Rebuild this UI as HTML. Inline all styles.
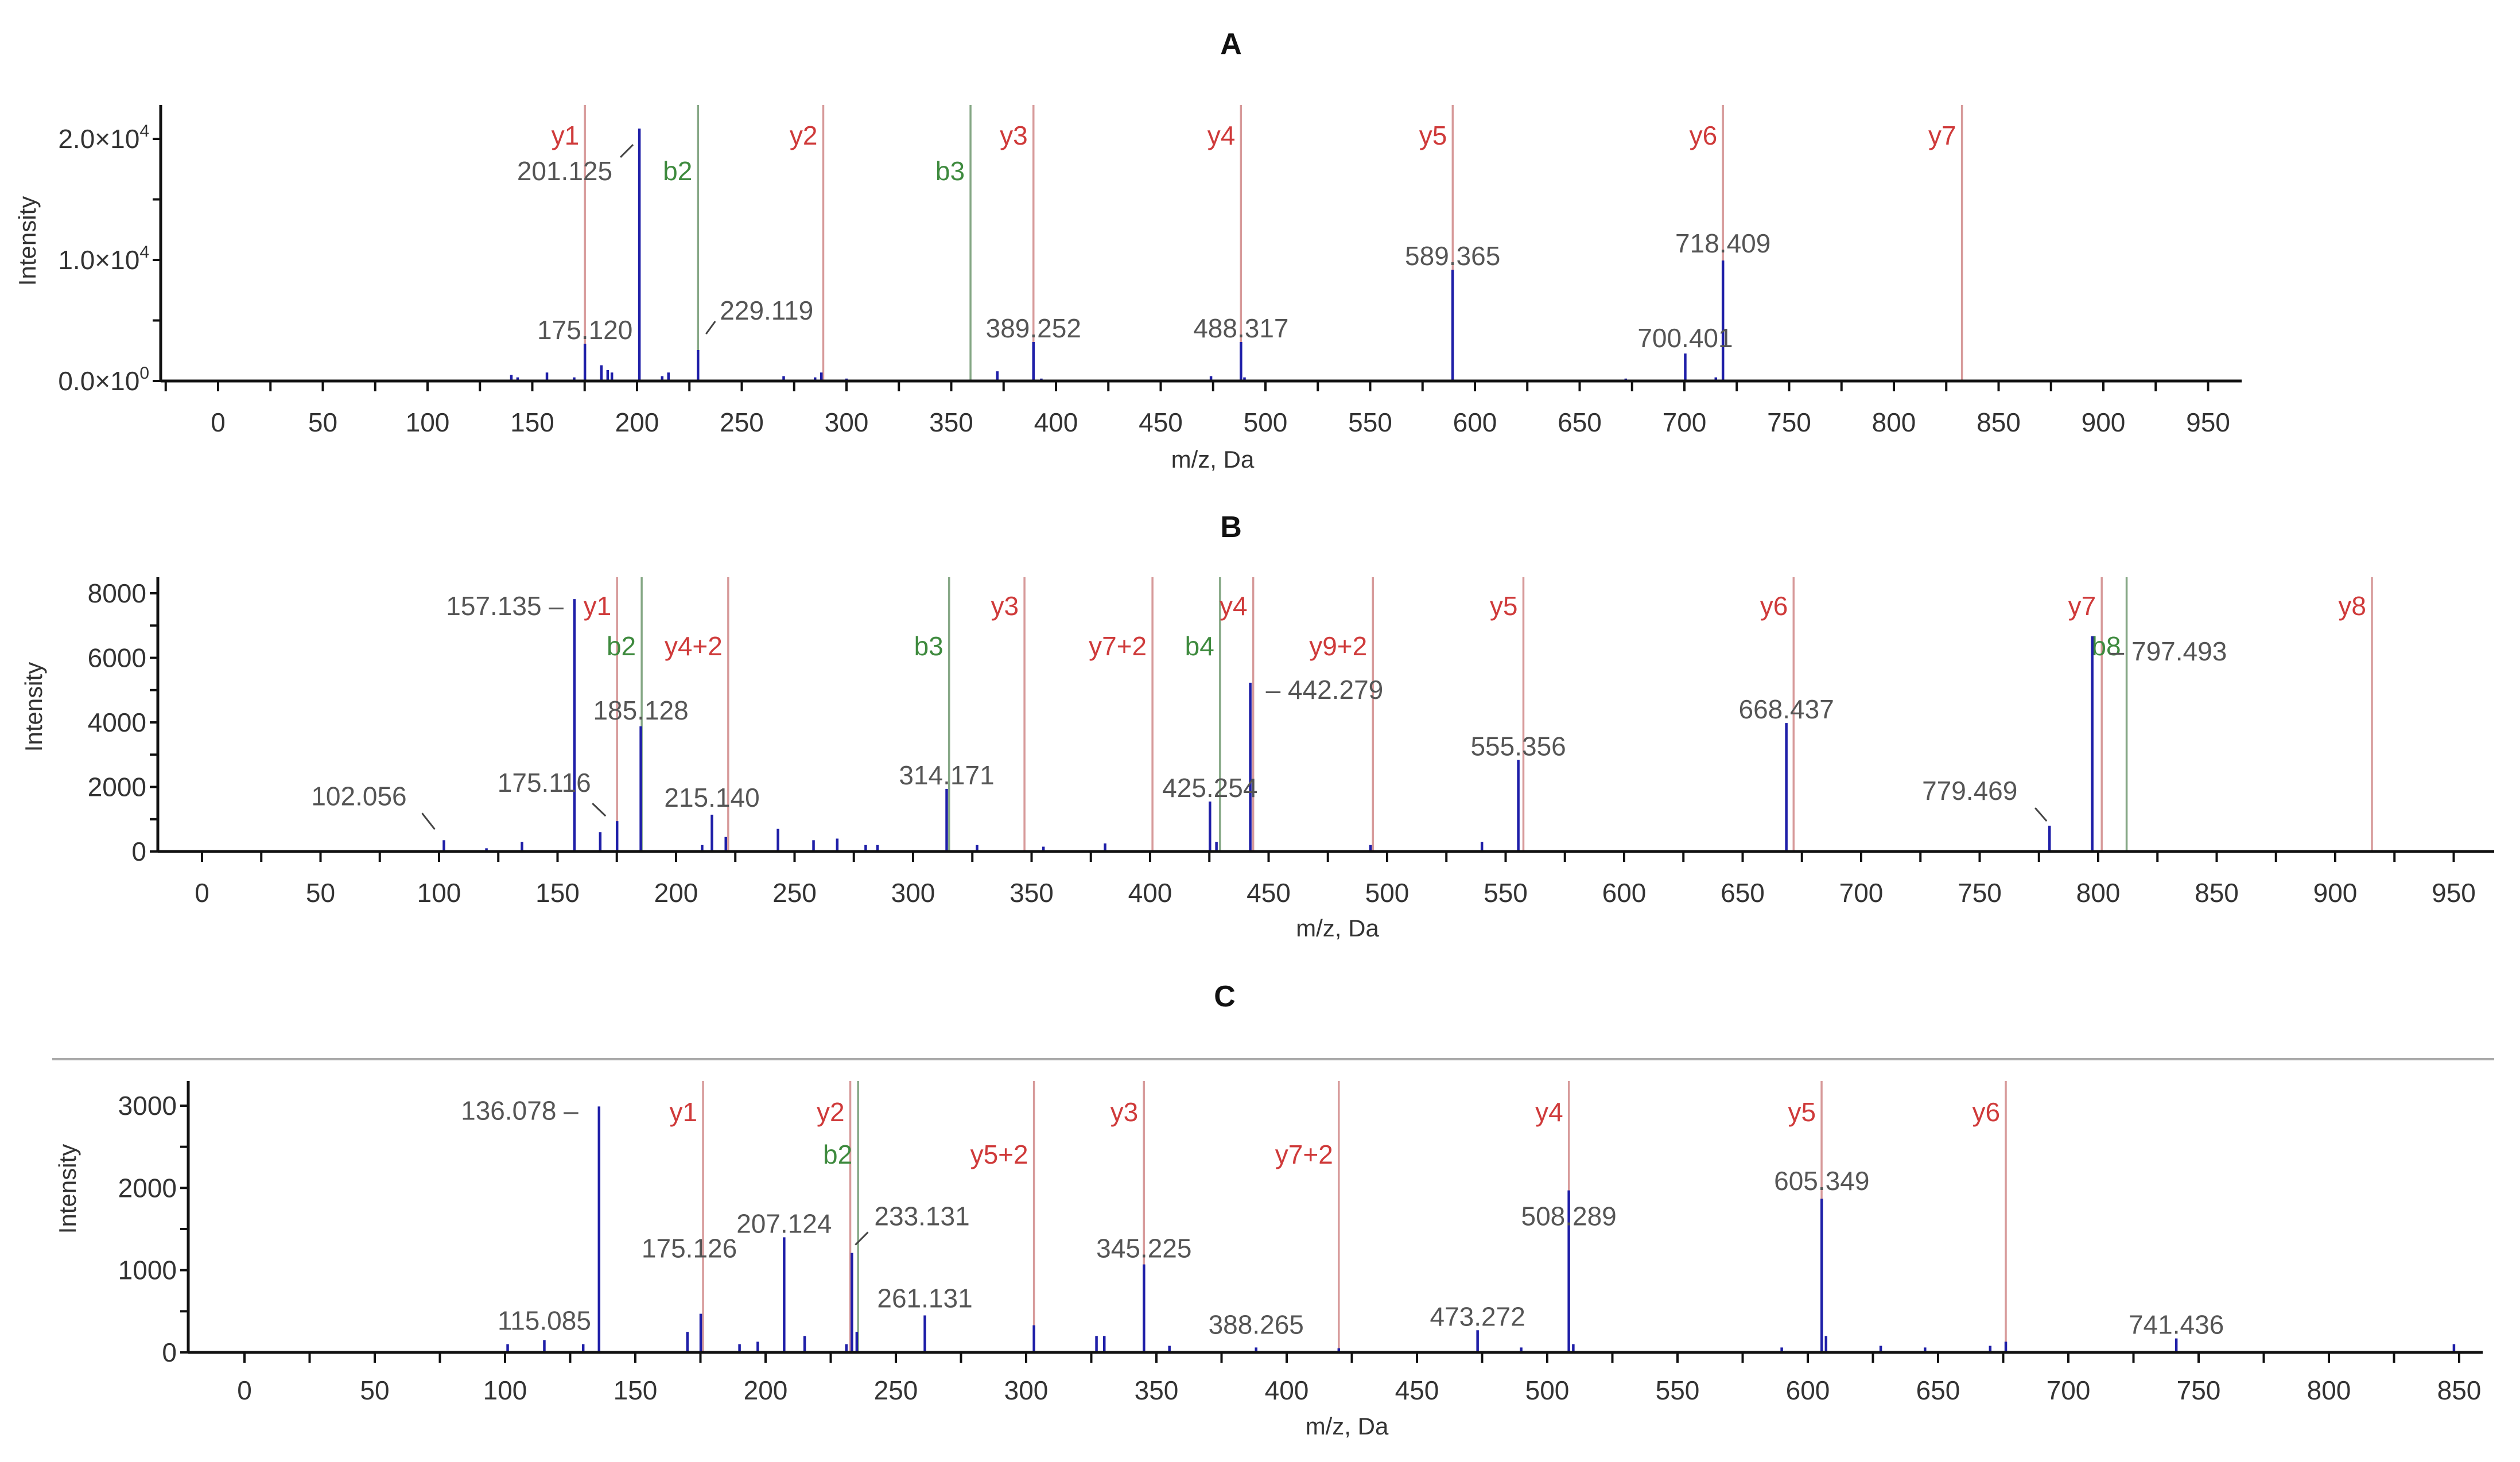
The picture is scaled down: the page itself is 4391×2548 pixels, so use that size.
<!DOCTYPE html>
<html><head><meta charset="utf-8">
<style>
html,body{margin:0;padding:0;background:#fff;}
svg{display:block;}
text{font-family:"Liberation Sans",Arial,sans-serif;}
</style></head>
<body>
<svg id="fig" width="4391" height="2548" viewBox="0 0 4391 2548" xmlns="http://www.w3.org/2000/svg">
<rect x="0" y="0" width="4391" height="2548" fill="#fff"/>
<line x1="91" y1="1846" x2="4346" y2="1846" stroke="#aaa" stroke-width="4"/>
</svg>
<script>
// ---------- Panel A data ----------
const aMz  = [140,143,157,170,175.120,183,186,188,201.125,212,215,229.119,270,285,288,300,372,389.252,393,474,488.317,490,589.365,672,700.401,715,718.409];
const aInt = [500,300,700,300,3080,1300,900,700,20850,400,700,2560,400,300,700,200,800,3220,200,400,3220,300,9190,200,2270,300,9950];
const aLabels = [175.120,201.125,229.119,389.252,488.317,589.365,700.401,718.409];
const aAnnMz = [175.12,229.12,288.9,359.2,389.25,488.3,589.4,718.4,832.5];
const aAnnName = ["y1","b2","y2","b3","y3","y4","y5","y6","y7"];
const aYTicks = [0,10000,20000];
const aYTickLabels = [["0.0×10","0"],["1.0×10","4"],["2.0×10","4"]];

// ---------- Panel B data ----------
const bMz  = [102.056,120,135,157.135,168,175.116,185.128,211,215.140,221,243,258,268,280,285,314.171,327,355,381,425.254,428,442.279,493,540,555.356,668.437,779.469,797.493];
const bInt = [350,100,300,7820,600,940,3880,200,1140,450,700,350,400,200,200,1940,200,150,250,1550,300,5230,200,300,2840,3980,800,6670];
const bLabels = [102.056,157.135,175.116,185.128,215.140,314.171,425.254,442.279,555.356,668.437,779.469,797.493];
const bAnnMz = [175.1,185.5,222,315.2,347,401,429.5,443.5,494,557.5,671.5,801.5,812,915.5];
const bAnnName = ["y1","b2","y4+2","b3","y3","y7+2","b4","y4","y9+2","y5","y6","y7","b8","y8"];
const bYTicks = [0,2000,4000,6000,8000];
const bYTickLabels = ["0","2000","4000","6000","8000"];

// ---------- Panel C data ----------
const cMz  = [101,115.085,130,136.078,170,175.126,190,197,207.124,215,231,233.131,235,261.131,303,327,330,345.225,355,388.265,420,473.272,490,508.289,510,590,605.349,607,628,645,670,676,741.436,848];
const cInt = [100,150,100,2990,250,470,100,130,1400,200,100,1210,250,450,330,200,200,1070,80,60,50,270,60,1970,100,60,1870,200,80,60,80,130,170,100];
const cLabels = [115.085,136.078,175.126,207.124,233.131,261.131,345.225,388.265,473.272,508.289,605.349,741.436];
const cAnnMz = [176,232.5,235.5,303,345.2,420,508.3,605.3,676];
const cAnnName = ["y1","y2","b2","y5+2","y3","y7+2","y4","y5","y6"];
const cYTicks = [0,1000,2000,3000];
const cYTickLabels = ["0","1000","2000","3000"];

// ---------- layout (not data) ----------
const NS = "http://www.w3.org/2000/svg";
const svg = document.getElementById('fig');
function mk(tag, attrs, parent){
  const e = document.createElementNS(NS, tag);
  for (const k in attrs) e.setAttribute(k, attrs[k]);
  (parent||svg).appendChild(e);
  return e;
}

const panels = [
  {id:"a", title:"A", titleX:2145, titleY:94, mz:aMz, inten:aInt, labels:aLabels, annMz:aAnnMz, annName:aAnnName,
   yTicks:aYTicks, yTickLabels:aYTickLabels, yMinorStep:5000, yMax:20000, sci:true,
   x0:380, pxPerDa:3.65, base:664, pxPerInt:422/20000, axisX:280, axisRight:3906, top:183, xMinT:-25, xMaxT:950,
   tickLabelY:752, xTitleY:815, yTitleX:62, yTitleY:420, annRowY:[252,314],
   over:{ "201.125":{anchor:"end",dx:-47,dy:90,lead:[-33,50,-11,28]},
          "229.119":{anchor:"start",dx:38,dy:-53,lead:[14,-28,30,-50]},
          "700.401":{dy:-11}, "718.409":{dy:-14}}},
  {id:"b", title:"B", titleX:2145, titleY:936, mz:bMz, inten:bInt, labels:bLabels, annMz:bAnnMz, annName:bAnnName,
   yTicks:bYTicks, yTickLabels:bYTickLabels, yMinorStep:1000, yMax:8000, sci:false,
   x0:352, pxPerDa:4.13, base:1484, pxPerInt:450/8000, axisX:275, axisRight:4346, top:1006, xMinT:0, xMaxT:950,
   tickLabelY:1572, xTitleY:1632, yTitleX:73, yTitleY:1232, annRowY:[1072,1142],
   over:{ "157.135":{anchor:"end",dx:-19,dy:28,suffix:" –"},
          "102.056":{dx:-148,dy:-61,lead:[-38,-47,-16,-19]},
          "175.116":{dx:-127,dy:-51,lead:[-43,-31,-20,-9]},
          "185.128":{dy:-12}, "215.140":{dy:-14},
          "442.279":{anchor:"start",dx:27,dy:28,prefix:"– "},
          "779.469":{dx:-139,dy:-45,lead:[-25,-31,-5,-8]},
          "797.493":{anchor:"start",dx:30,dy:42,prefix:"– "}}},
  {id:"c", title:"C", titleX:2134, titleY:1754, mz:cMz, inten:cInt, labels:cLabels, annMz:cAnnMz, annName:cAnnName,
   yTicks:cYTicks, yTickLabels:cYTickLabels, yMinorStep:500, yMax:3000, sci:false,
   x0:426, pxPerDa:4.54, base:2357, pxPerInt:430/3000, axisX:328, axisRight:4326, top:1884, xMinT:0, xMaxT:850,
   tickLabelY:2439, xTitleY:2500, yTitleX:132, yTitleY:2072, annRowY:[1954,2028],
   over:{ "136.078":{anchor:"end",dx:-36,dy:23,suffix:" –"},
          "115.085":{dy:-18}, "175.126":{dx:-20,dy:-98},
          "233.131":{anchor:"start",dx:39,dy:-48,lead:[6,-14,28,-36]},
          "261.131":{dy:-14}, "345.225":{dy:-12}, "388.265":{dy:-24},
          "508.289":{dy:61}, "605.349":{dy:-15}}}
];

panels.forEach(p => {
  const X = m => p.x0 + m * p.pxPerDa;
  const Y = v => p.base - v * p.pxPerInt;
  const g = mk('g', {});
  
  

  const t = mk('text', {x:p.titleX, y:p.titleY, 'text-anchor':'middle', 'font-size':52, 'font-weight':'bold', fill:'#111'}, g);
  t.textContent = p.title;
  
  

  p.annMz.forEach((m, i) => {
    const name = p.annName[i];
    const isB = name[0] === 'b';
    const row = (isB || name.indexOf('+2') >= 0) ? 1 : 0;
    const ln = mk('line', {x1:X(m), x2:X(m), y1:p.top, y2:p.base, stroke: isB ? '#86a886' : '#d79a9a', 'stroke-width':3.5}, g);
    
    
    const tx = mk('text', {x:X(m) - 10, y:p.annRowY[row], 'text-anchor':'end', 'font-size':46, fill: isB ? '#3e8a3e' : '#cf3a3a'}, g);
    tx.textContent = name;
    
    
  });

  p.mz.forEach((m, i) => {
    const pk = mk('line', {x1:X(m), x2:X(m), y1:p.base, y2:Y(p.inten[i]), stroke:'#1f1fa8', 'stroke-width':4.5}, g);
    
    
  });

  p.labels.forEach(m => {
    const idx = p.mz.indexOf(m);
    const px = X(m), py = Y(p.inten[idx]);
    const key = m.toFixed(3);
    const o = p.over[key] || {};
    const tx = mk('text', {x:px + (o.dx||0), y:py + (o.dy===undefined ? -8 : o.dy), 'text-anchor':o.anchor||'middle', 'font-size':46, fill:'#555'}, g);
    tx.textContent = (o.prefix||'') + key + (o.suffix||'');
    
    
    if (o.lead) {
      const l = mk('line', {x1:px+o.lead[0], y1:py+o.lead[1], x2:px+o.lead[2], y2:py+o.lead[3], stroke:'#444', 'stroke-width':3}, g);
      
      
    }
  });

  const xa = mk('line', {x1:p.axisX, x2:p.axisRight, y1:p.base, y2:p.base, stroke:'#111', 'stroke-width':5}, g);
  
  
  const ya = mk('line', {x1:p.axisX, x2:p.axisX, y1:p.top, y2:p.base, stroke:'#111', 'stroke-width':5}, g);
  
  

  for (let v = p.xMinT; v <= p.xMaxT; v += 25) {
    const tk = mk('line', {x1:X(v), x2:X(v), y1:p.base, y2:p.base + 18, stroke:'#111', 'stroke-width':4}, g);
    
    
    if (v % 50 === 0) {
      const tl = mk('text', {x:X(v), y:p.tickLabelY, 'text-anchor':'middle', 'font-size':46, fill:'#333'}, g);
      tl.textContent = String(v);
      
      
    }
  }
  for (let v = 0; v <= p.yMax; v += p.yMinorStep) {
    const tk = mk('line', {x1:p.axisX - 14, x2:p.axisX, y1:Y(v), y2:Y(v), stroke:'#111', 'stroke-width':4}, g);
    
    
  }
  p.yTicks.forEach((v, i) => {
    const tl = mk('text', {x:p.axisX - 20, y:Y(v) + 16, 'text-anchor':'end', 'font-size':46, fill:'#333'}, g);
    
    
    const lab = p.yTickLabels[i];
    if (p.sci) {
      const a = mk('tspan', {}, tl); a.textContent = lab[0];
      const b = mk('tspan', {'font-size':30, dy:-20}, tl); b.textContent = lab[1];
    } else tl.textContent = lab;
  });

  const xt = mk('text', {x:(p.axisX + p.axisRight)/2 + 20, y:p.xTitleY, 'text-anchor':'middle', 'font-size':42, fill:'#333'}, g);
  xt.textContent = 'm/z, Da';
  
  
  const yt = mk('text', {x:p.yTitleX, y:p.yTitleY, 'text-anchor':'middle', 'font-size':42, fill:'#333', transform:'rotate(-90 ' + p.yTitleX + ' ' + p.yTitleY + ')'}, g);
  yt.textContent = 'Intensity';
  
  
});
</script>
</body></html>
